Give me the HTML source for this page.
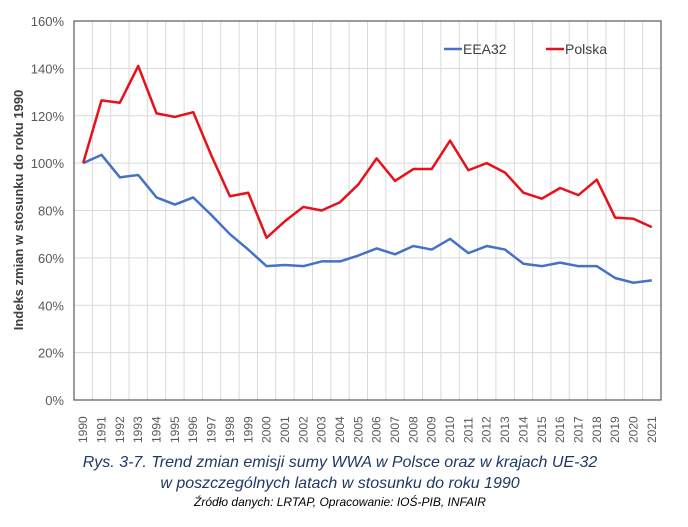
<!DOCTYPE html>
<html><head><meta charset="utf-8"><style>
body{margin:0;background:#fff;width:688px;height:527px;overflow:hidden}
svg{display:block}
text{font-family:"Liberation Sans",sans-serif}
</style></head><body>
<svg id="chart" width="688" height="527">
<g id="grid"></g>
<g id="axes"></g>
<g id="series"></g>
<text x="23" y="210" transform="rotate(-90 23 210)" text-anchor="middle" font-size="13" font-weight="bold" fill="#404040">Indeks zmian w stosunku do roku 1990</text>
<g>
<g><line x1="444" y1="49" x2="462" y2="49" stroke="#4472C4" stroke-width="2.5"/><text x="463" y="54" font-size="14" fill="#404040">EEA32</text></g>
<g><line x1="546" y1="49" x2="564" y2="49" stroke="#E8101A" stroke-width="2.5"/><text x="565" y="54" font-size="14" fill="#404040">Polska</text></g>
</g>
<g font-style="italic" fill="#1F3864" text-anchor="middle">
<text x="340" y="467" font-size="16">Rys. 3-7. Trend zmian emisji sumy WWA w Polsce oraz w krajach UE-32</text>
<text x="340" y="488" font-size="16">w poszczególnych latach w stosunku do roku 1990</text>
<text x="340" y="506" font-size="12" fill="#000">Źródło danych: LRTAP, Opracowanie: IOŚ-PIB, INFAIR</text>
</g>
</svg>
<script>
const years=[1990,1991,1992,1993,1994,1995,1996,1997,1998,1999,2000,2001,2002,2003,2004,2005,2006,2007,2008,2009,2010,2011,2012,2013,2014,2015,2016,2017,2018,2019,2020,2021];
const polska=[100,126.5,125.5,141,121,119.5,121.5,103,86,87.5,68.5,75.5,81.5,80,83.5,91,102,92.5,97.5,97.5,109.5,97,100,96,87.5,85,89.5,86.5,93,77,76.5,73];
const eea32=[100,103.5,94,95,85.5,82.5,85.5,78,70,63.5,56.5,57,56.5,58.5,58.5,61,64,61.5,65,63.5,68,62,65,63.5,57.5,56.5,58,56.5,56.5,51.5,49.5,50.5];
const yTicks=[0,20,40,60,80,100,120,140,160];
const NS="http://www.w3.org/2000/svg";
const L=74,R=661,T=21,B=400;
const step=(R-L)/years.length;
const x=i=>L+(i+0.5)*step;
const y=v=>B-(v/160)*(B-T);
function mk(tag,attrs,parent){const e=document.createElementNS(NS,tag);for(const k in attrs)e.setAttribute(k,attrs[k]);parent.appendChild(e);return e;}
const grid=document.getElementById('grid'),axes=document.getElementById('axes'),series=document.getElementById('series');
yTicks.forEach(t=>{
 const gl=mk('line',{x1:L,x2:R,y1:y(t),y2:y(t),stroke:'#d9d9d9','stroke-width':1},grid);
 
 
 const tx=mk('text',{x:64,y:y(t)+5,'text-anchor':'end','font-size':13,fill:'#595959'},axes);
 tx.textContent=t+'%';
 
 
});
for(let i=1;i<years.length;i++){
 const gl=mk('line',{x1:L+i*step,x2:L+i*step,y1:T,y2:B,stroke:'#d9d9d9','stroke-width':1},grid);
 
 
}
const frame=mk('rect',{x:L,y:T,width:R-L,height:B-T,fill:'none',stroke:'#595959','stroke-width':1.2},axes);


years.forEach((yr,i)=>{
 const tx=mk('text',{x:x(i)+4,y:443,transform:`rotate(-90 ${x(i)+4} 443)`,'font-size':12,fill:'#595959'},axes);
 tx.textContent=yr;
 
 
});
function line(vals,color,name){
 const p=mk('polyline',{points:vals.map((v,i)=>x(i)+','+y(v)).join(' '),fill:'none',stroke:color,'stroke-width':2.5,'stroke-linejoin':'round'},series);
 
 
}
line(eea32,'#4472C4','eea32-line');
line(polska,'#E8101A','polska-line');
</script>
</body></html>
